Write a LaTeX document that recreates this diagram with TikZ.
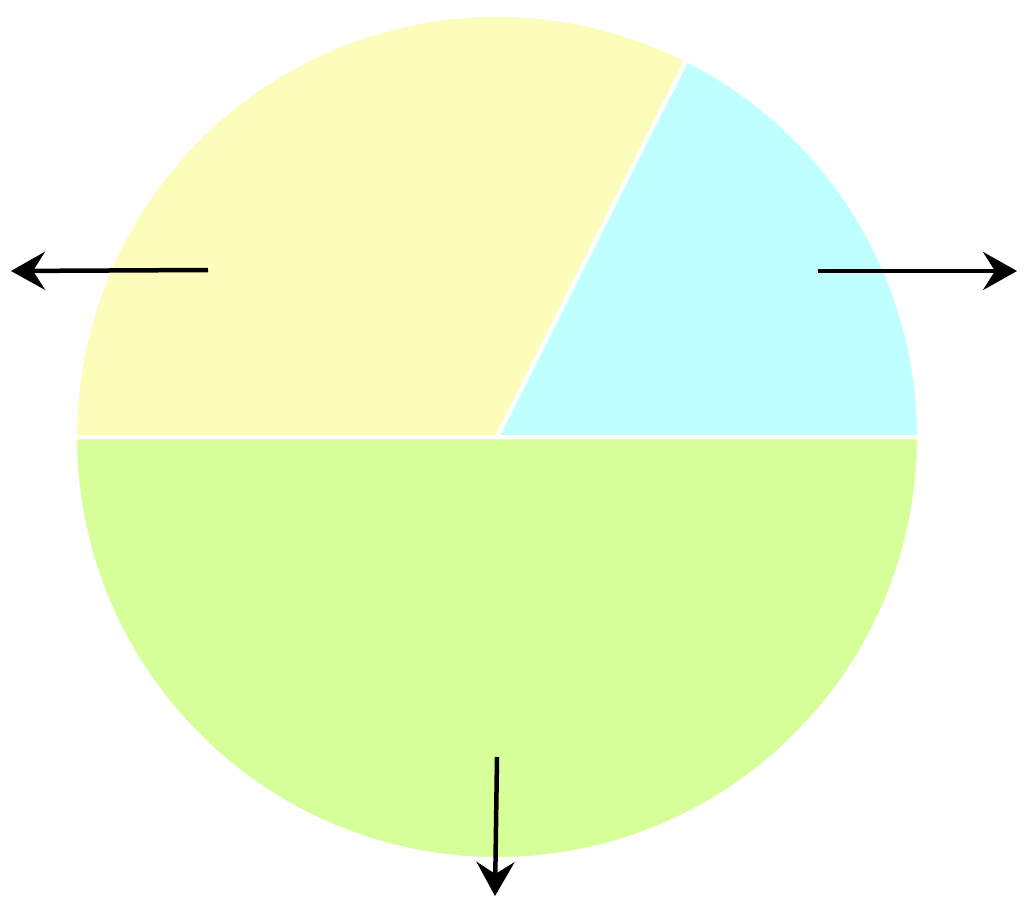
\documentclass[tikz,border=0pt]{standalone}
\usetikzlibrary{arrows.meta}
\definecolor{pieyellow}{HTML}{FCFCBB}
\definecolor{piecyan}{HTML}{BFFFFF}
\definecolor{piegreen}{HTML}{D6FF99}
\tikzset{
  slice/.style={draw=white, line width=4pt, line join=round},
  outarrow/.style={line width=4.5pt, -{Stealth[length=34pt,width=38pt,inset=12pt]}}
}
\begin{document}
\begin{tikzpicture}[x=1pt,y=1pt]
  \useasboundingbox (0,0) rectangle (1024,906);
  \coordinate (c) at (497,469);
  % three slices of the pie
  \fill[slice,fill=piegreen] (c) -- ++(0:422) arc (0:-180:422) -- cycle;
  \fill[slice,fill=pieyellow] (c) -- ++(63.3:422) arc (63.3:180:422) -- cycle;
  \fill[slice,fill=piecyan] (c) -- ++(0:422) arc (0:63.3:422) -- cycle;
  \draw[slice] (c) -- ++(0:422) (c) -- ++(180:422) (c) -- ++(63.3:422);
  % arrows pulling the slices apart
  \coordinate (ys) at (208,636);
  \coordinate (ye) at (11,635);
  \coordinate (cs) at (818,635);
  \coordinate (ce) at (1017,635);
  \coordinate (gs) at (497,149);
  \coordinate (ge) at (495,10);
  \draw[outarrow] (ys) -- (ye);
  \draw[outarrow] (cs) -- (ce);
  \draw[outarrow] (gs) -- (ge);
\end{tikzpicture}
\end{document}
